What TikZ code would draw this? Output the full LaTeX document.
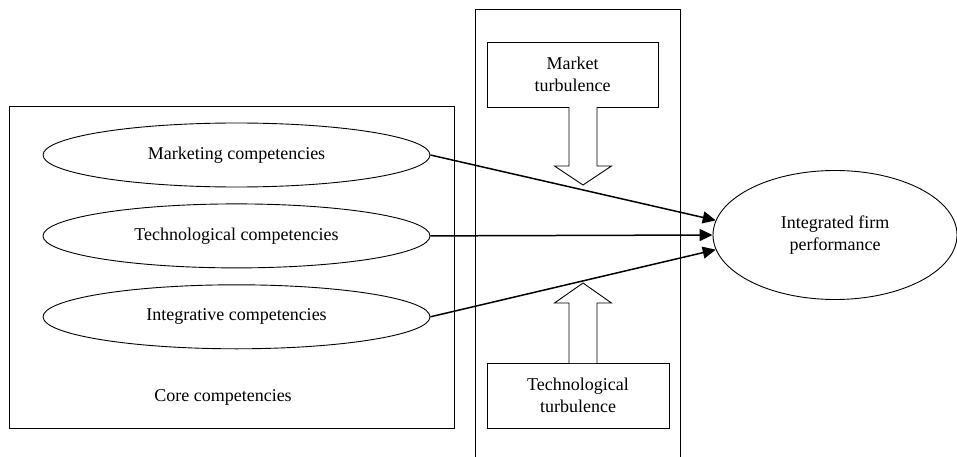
\documentclass[tikz,border=0pt]{standalone}
\usepackage{fontspec}
\setmainfont{Liberation Serif}
\usetikzlibrary{shapes,arrows.meta,positioning,calc}

\begin{document}
\begin{tikzpicture}[
    x=1pt, y=-1pt,
    font=\fontsize{18}{22}\selectfont,
    node distance=16pt,
    comp/.style={ellipse, draw, line width=0.9pt, minimum width=387pt, minimum height=64pt, inner sep=0pt},
    frame/.style={draw, line width=0.9pt},
    turb/.style={rectangle, draw, line width=0.9pt, align=center, inner sep=0pt},
    arrow/.style={-{Triangle[length=13pt,width=12pt]}, line width=1.5pt},
    hollow/.style={draw, line width=0.9pt, fill=white}
]
\useasboundingbox (0,0) rectangle (957,457);

% Core competencies
\node[frame, minimum width=445pt, minimum height=322pt, inner sep=0pt] (core) at (231.5,267) {};
\node[comp] (mkt) at (236.5,155) {Marketing competencies};
\node[comp, below=of mkt] (tech) {Technological competencies};
\node[comp, below=of tech] (intg) {Integrative competencies};
\node (corelbl) at (223,397) {Core competencies};

% Environmental turbulence
\node[frame, minimum width=205pt, minimum height=470pt, inner sep=0pt] (env) at (577.5,244) {};
\node[turb, minimum width=171pt, minimum height=65pt] (mt) at (572.5,74.5) {Market\\turbulence};
\node[turb, minimum width=182pt, minimum height=65pt] (tt) at (578,395.5) {Technological\\turbulence};

% Performance
\node[ellipse, draw, line width=0.9pt, minimum width=244pt, minimum height=129pt, align=center] (ifp) at (835,235) {Integrated firm\\performance};

% Hollow arrows
\coordinate (mtarr) at (583,107);
\coordinate (ttarr) at (583,363);
\path[hollow] (mtarr) ++(-14,0) -- ++(0,59) -- ++(-14.5,0) -- (583,185) -- ++(28.5,-19) -- ++(-14.5,0) -- ++(0,-59);
\path[hollow] (ttarr) ++(-14,0) -- ++(0,-60) -- ++(-14.5,0) -- (583,283) -- ++(28.5,20) -- ++(-14.5,0) -- ++(0,60);

% Arrows
\draw[arrow] (mkt.east) -- (ifp.173);
\draw[arrow] (tech.east) -- (ifp.180);
\draw[arrow] (intg.east) -- (ifp.187);

\end{tikzpicture}
\end{document}
